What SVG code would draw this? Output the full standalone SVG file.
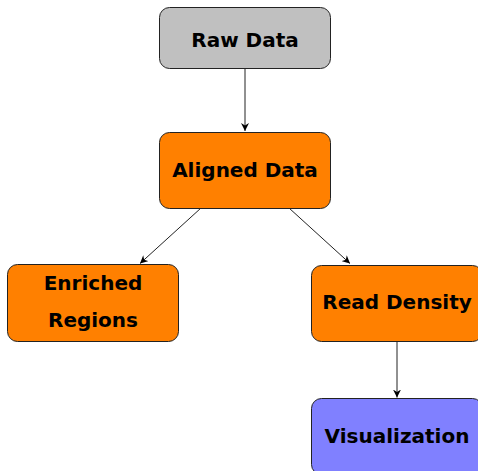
<svg xmlns="http://www.w3.org/2000/svg" width="478" height="471" viewBox="0 0 478 471">
<style>
.box{stroke:#222;stroke-width:1}
.lbl{font-family:"DejaVu Sans",sans-serif;font-weight:bold;font-size:20px;fill:#000;text-anchor:middle}
.edge{stroke:#222;stroke-width:1;fill:none;marker-end:url(#ah)}
</style>
<defs>
<marker id="ah" viewBox="0 0 10 10" refX="10" refY="5" markerWidth="8" markerHeight="8" markerUnits="userSpaceOnUse" orient="auto">
<path d="M0,0 L10,5 L0,10 L3,5 Z" fill="#000"/>
</marker>
</defs>
<g id="connectors">
<line class="edge" x1="245" y1="69" x2="245" y2="131"/>
<line class="edge" x1="201" y1="208" x2="140" y2="263.5"/>
<line class="edge" x1="289" y1="208" x2="350" y2="263.5"/>
<line class="edge" x1="397" y1="341" x2="397" y2="397.5"/>
</g>
<g id="raw">
<rect class="box" x="159.5" y="7.5" width="171" height="61" rx="10" fill="#c0c0c0"/>
<text class="lbl" x="245" y="47">Raw Data</text>
</g>
<g id="aligned">
<rect class="box" x="159.5" y="132.5" width="171" height="76" rx="10" fill="#ff8000"/>
<text class="lbl" x="245" y="177">Aligned Data</text>
</g>
<g id="enriched">
<rect class="box" x="7.5" y="264.5" width="171" height="77" rx="10" fill="#ff8000"/>
<text class="lbl" x="93" y="290">Enriched</text>
<text class="lbl" x="93" y="327">Regions</text>
</g>
<g id="readdensity">
<rect class="box" x="311.5" y="265.5" width="171" height="76" rx="10" fill="#ff8000"/>
<text class="lbl" x="397" y="309">Read Density</text>
</g>
<g id="viz">
<rect class="box" x="311.5" y="398.5" width="171" height="76" rx="10" fill="#8080ff"/>
<text class="lbl" x="397" y="443">Visualization</text>
</g>
</svg>
